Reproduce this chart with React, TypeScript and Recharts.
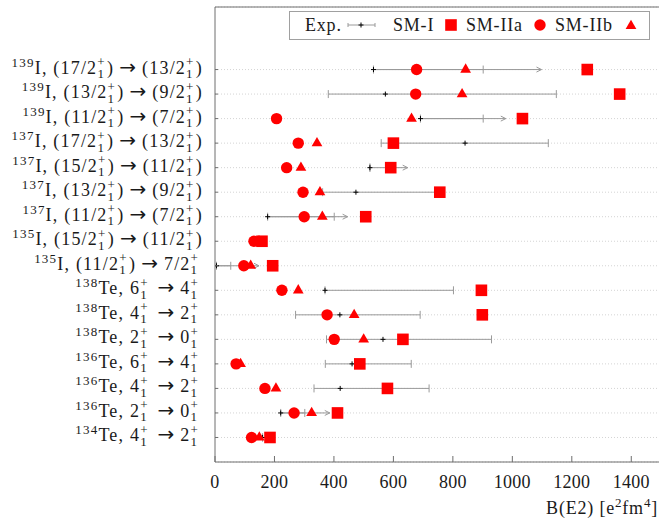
import React from 'react';
import { ScatterChart, Scatter, XAxis, YAxis, CartesianGrid, ErrorBar, Legend } from 'recharts';

// ---- tick labels (top row first) ----
const massNumbers = [139, 139, 139, 137, 137, 137, 137, 135, 135, 138, 138, 138, 136, 136, 136, 134];
const elements = ['I', 'I', 'I', 'I', 'I', 'I', 'I', 'I', 'I', 'Te', 'Te', 'Te', 'Te', 'Te', 'Te', 'Te'];
const initialStates = ['(17/2)', '(13/2)', '(11/2)', '(17/2)', '(15/2)', '(13/2)', '(11/2)', '(15/2)', '(11/2)', '6', '4', '2', '6', '4', '2', '4'];
const finalStates = ['(13/2)', '(9/2)', '(7/2)', '(13/2)', '(11/2)', '(9/2)', '(7/2)', '(11/2)', '7/2', '4', '2', '0', '4', '2', '0', '2'];

// ---- values, B(E2) in e^2 fm^4 (top row first) ----
const expValue = [533, 573, 691, 841, 521, 474, 177, null, 5, 370, 420, 565, 461, 421, 221, 160];
const expLow = [533, 381, 691, 559, 521, 362, 177, null, 5, 370, 271, 375, 371, 333, 221, 160];
const expHigh = [902, 1148, 902, 1121, 521, 750, 401, null, 53, 802, 690, 930, 660, 720, 302, 160];
const expArrowTo = [1098, null, 978, null, 648, null, 446, null, 148, null, null, null, null, null, 386, null];
const smI = [1252, 1361, 1034, 600, 591, 756, 507, 158, 194, 896, 899, 632, 487, 580, 412, 185];
const smIIa = [678, 675, 207, 280, 241, 296, 300, 131, 97, 225, 377, 401, 71, 168, 266, 123];
const smIIb = [843, 831, 661, 343, 289, 353, 361, 148, 120, 280, 468, 500, 86, 205, 325, 149];

const xTicks = [0, 200, 400, 600, 800, 1000, 1200, 1400];

const N = massNumbers.length;
const rowY = (i: number) => N - i;
const yTicks = massNumbers.map((_, i) => rowY(i)).reverse();

const expData = expValue
  .map((v, i) => (v == null ? null : { x: v, y: rowY(i), err: [v - (expLow[i] as number), (expHigh[i] as number) - v] }))
  .filter(Boolean) as any[];
const arrowData = expArrowTo
  .map((v, i) => (v == null ? null : { x: v, y: rowY(i), back: [v - (expValue[i] as number), 0] }))
  .filter(Boolean) as any[];
const smIData = smI.map((v, i) => ({ x: v, y: rowY(i) }));
const smIIaData = smIIa.map((v, i) => ({ x: v, y: rowY(i) }));
const smIIbData = smIIb.map((v, i) => ({ x: v, y: rowY(i) }));

const FONT = '"Liberation Serif", "Times New Roman", serif';
const RED = '#ff0000';
const GRAY = '#9a9a9a';
const AXIS = '#6e6e6e';
const INK = '#1a1a1a';

const Plus = ({ cx, cy }: any) => (
  <g>
    <line x1={cx - 2.5} x2={cx + 2.5} y1={cy} y2={cy} stroke="#000" strokeWidth={1} />
    <line x1={cx} x2={cx} y1={cy - 2.5} y2={cy + 2.5} stroke="#000" strokeWidth={1} />
  </g>
);
const ArrowHead = ({ cx, cy }: any) => (
  <path d={`M${cx - 5},${cy - 2.5} L${cx},${cy} L${cx - 5},${cy + 2.5}`} fill="none" stroke={GRAY} strokeWidth={1} />
);
const Square = ({ cx, cy }: any) => <rect x={cx - 5.8} y={cy - 5.8} width={11.6} height={11.6} fill={RED} />;
const Dot = ({ cx, cy }: any) => <circle cx={cx} cy={cy} r={5.7} fill={RED} />;
const Tri = ({ cx, cy }: any) => {
  const r = 6.2;
  return <path d={`M${cx},${cy - r} L${cx + r * 0.866},${cy + r / 2} L${cx - r * 0.866},${cy + r / 2} Z`} fill={RED} />;
};

function stateSpans(state: string, key: string, lead: number) {
  const paren = state.startsWith('(');
  const inner = paren ? state.slice(1, -1) : state;
  const out: any[] = [];
  out.push(<tspan key={key + 'a'} dx={lead}>{(paren ? '(' : '') + inner}</tspan>);
  out.push(<tspan key={key + 'b'} fontSize={13} dy={-7.5}>+</tspan>);
  out.push(<tspan key={key + 'c'} fontSize={13} dx={-8.5} dy={12}>1</tspan>);
  out.push(<tspan key={key + 'd'} dx={2} dy={-4.5}>{paren ? ')' : '\u200a'}</tspan>);
  return out;
}

const YTick = ({ x, y, payload }: any) => {
  const i = N - payload.value;
  return (
    <g>
      <line x1={x} x2={x + 3} y1={y} y2={y} stroke={AXIS} />
      <text x={x - 12} y={y + 4} textAnchor="end" fontFamily={FONT} fontSize={18} letterSpacing={1.2} fill={INK}>
        <tspan fontSize={13} dy={-7}>{massNumbers[i]}</tspan>
        <tspan dy={7}>{elements[i] + ', '}</tspan>
        {stateSpans(initialStates[i], 'i', 0)}
        <tspan dx={5} fontFamily='"DejaVu Sans", sans-serif' fontSize={20} letterSpacing={0}>{'\u2192'}</tspan>
        {stateSpans(finalStates[i], 'f', 6)}
      </text>
    </g>
  );
};

const XTick = ({ x, y, payload }: any) => (
  <g>
    <line x1={x} x2={x} y1={y} y2={y - 6} stroke={AXIS} />
    <text x={x} y={y + 26} textAnchor="middle" fontFamily={FONT} fontSize={18} letterSpacing={0.3} fill={INK}>
      {payload.value}
    </text>
  </g>
);

const XLabel = ({ viewBox }: any) => (
  <text x={viewBox.x + viewBox.width - 3} y={viewBox.y + 52} textAnchor="end" fontFamily={FONT} fontSize={18} letterSpacing={0.8} fill={INK}>
    B(E2) [e<tspan fontSize={13} dy={-7}>2</tspan>
    <tspan dy={7}>fm</tspan>
    <tspan fontSize={13} dy={-7}>4</tspan>
    <tspan dy={7}>]</tspan>
  </text>
);

const LegendBox = () => (
  <svg width={362} height={30} style={{ display: 'block' }}>
    <rect x={0.5} y={0.5} width={360} height={28} fill="#fff" stroke="#a0a0a0" />
    <g fontFamily={FONT} fontSize={18} letterSpacing={0.8} fill={INK}>
      <text x={16} y={20}>Exp.</text>
      <text x={104} y={20}>SM-I</text>
      <text x={177} y={20}>SM-IIa</text>
      <text x={266} y={20}>SM-IIb</text>
    </g>
    <line x1={59} x2={86} y1={14} y2={14} stroke={GRAY} />
    <line x1={59} x2={59} y1={12} y2={16} stroke={GRAY} />
    <line x1={86} x2={86} y1={12} y2={16} stroke={GRAY} />
    <Plus cx={72} cy={14} />
    <Square cx={162} cy={14} />
    <Dot cx={251} cy={14} />
    <Tri cx={342} cy={15} />
  </svg>
);

export default function App() {
  return (
    <div style={{ position: 'absolute', left: 0, top: 0, width: 659, height: 520, overflow: 'hidden', background: '#fff' }}>
      <ScatterChart width={661} height={520} margin={{ top: 0, right: 0, bottom: 0, left: 0 }}>
        <CartesianGrid horizontal vertical={false} stroke="#d4d4d4" strokeDasharray="1 2" />
        <XAxis
          xAxisId={0}
          type="number"
          dataKey="x"
          domain={[0, 1500]}
          ticks={xTicks}
          allowDataOverflow
          height={58}
          stroke={AXIS}
          tickLine={false}
          tickSize={0}
          tickMargin={0}
          tick={<XTick />}
          label={<XLabel />}
        />
        <XAxis
          xAxisId="top"
          orientation="top"
          type="number"
          dataKey="x"
          domain={[0, 1500]}
          ticks={xTicks}
          allowDataOverflow
          height={7}
          stroke={AXIS}
          tickSize={7}
          tick={false}
        />
        <YAxis
          type="number"
          dataKey="y"
          domain={[0, 18.55]}
          ticks={yTicks}
          allowDataOverflow
          width={215}
          stroke={AXIS}
          tickLine={false}
          tickSize={0}
          tickMargin={0}
          tick={<YTick />}
          interval={0}
        />
        <Legend
          layout="vertical"
          align="center"
          verticalAlign="middle"
          wrapperStyle={{ left: 289, top: 11, width: 362, height: 30 }}
          content={() => <LegendBox />}
        />
        <Scatter name="Exp." data={expData} isAnimationActive={false} shape={(p: any) => <Plus cx={p.cx} cy={p.cy} />}>
          <ErrorBar dataKey="err" direction="x" width={4} stroke={GRAY} strokeWidth={1} />
        </Scatter>
        <Scatter name="arrows" data={arrowData} isAnimationActive={false} legendType="none" shape={(p: any) => <ArrowHead cx={p.cx} cy={p.cy} />}>
          <ErrorBar dataKey="back" direction="x" width={0} stroke={GRAY} strokeWidth={1} />
        </Scatter>
        <Scatter name="SM-I" data={smIData} isAnimationActive={false} shape={(p: any) => <Square cx={p.cx} cy={p.cy} />} />
        <Scatter name="SM-IIa" data={smIIaData} isAnimationActive={false} shape={(p: any) => <Dot cx={p.cx} cy={p.cy} />} />
        <Scatter name="SM-IIb" data={smIIbData} isAnimationActive={false} shape={(p: any) => <Tri cx={p.cx} cy={p.cy} />} />
      </ScatterChart>
    </div>
  );
}
